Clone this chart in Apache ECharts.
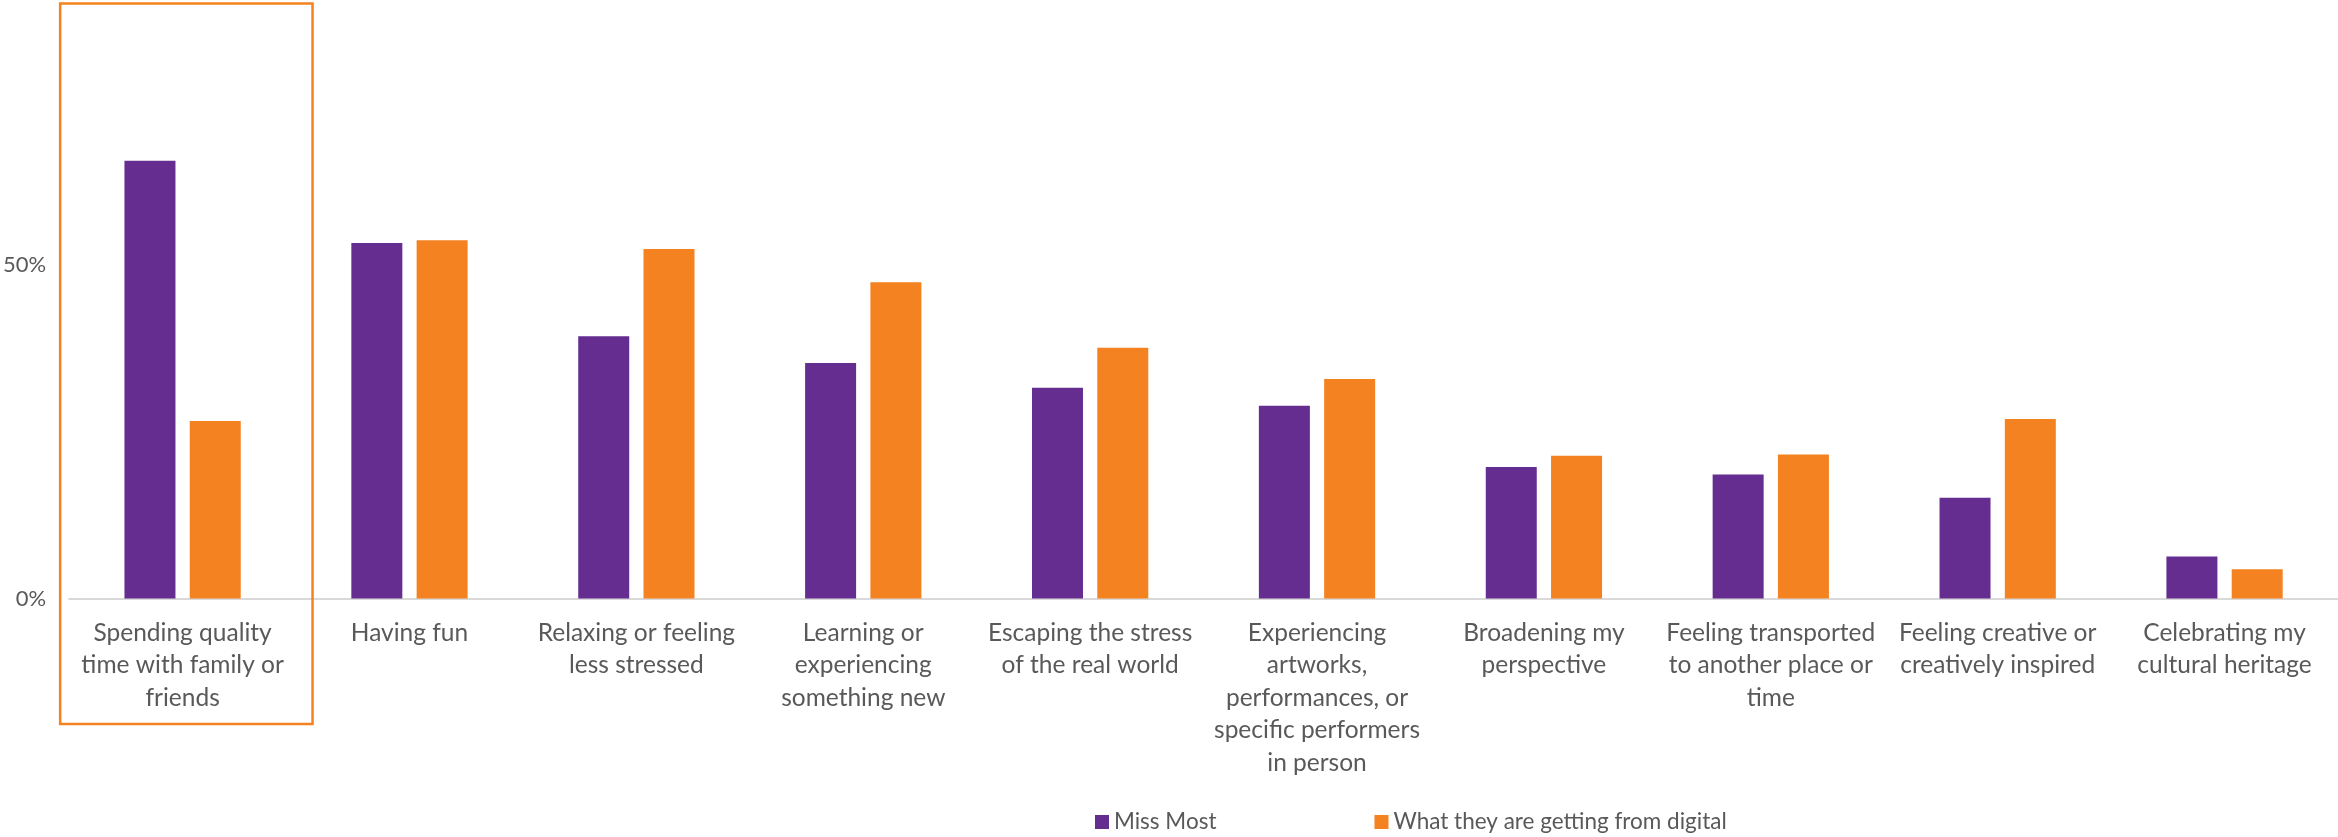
<!DOCTYPE html>
<html>
<head>
<meta charset="utf-8">
<script src="https://cdn.jsdelivr.net/npm/echarts@6/dist/echarts.min.js"></script>
<style>
  html, body { margin: 0; padding: 0; background: #ffffff; }
  #chart { width: 2338px; height: 837px; }
</style>
</head>
<body>
<div id="chart"></div>
<script>
const categories = [
  'Spending quality\ntime with family or\nfriends',
  'Having fun',
  'Relaxing or feeling\nless stressed',
  'Learning or\nexperiencing\nsomething new',
  'Escaping the stress\nof the real world',
  'Experiencing\nartworks,\nperformances, or\nspecific performers\nin person',
  'Broadening my\nperspective',
  'Feeling transported\nto another place or\ntime',
  'Feeling creative or\ncreatively inspired',
  'Celebrating my\ncultural heritage'
];
const seriesNames = ['Miss Most', 'What they are getting from digital'];
const missMost    = [65.6, 53.3, 39.3, 35.3, 31.6, 28.9, 19.7, 18.6, 15.1, 6.3];
const fromDigital = [26.6, 53.7, 52.4, 47.4, 37.6, 32.9, 21.4, 21.6, 26.9, 4.4];
const yMin = 0, yMax = 70, yInterval = 50;
const highlightIndex = 0;

const PURPLE = '#662D91';
const ORANGE = '#F58220';
const TEXT = '#595959';
const FONT = 'Lato, "Open Sans", sans-serif';

const chart = echarts.init(document.getElementById('chart'), null, { renderer: 'canvas' });

const option = {
  animation: false,
  backgroundColor: '#ffffff',
  grid: { left: 67, right: 0, top: 131.5, height: 467, containLabel: false },
  legend: {
    data: seriesNames,
    left: 1090,
    top: 805,
    icon: 'rect',
    itemWidth: 14,
    itemHeight: 14,
    itemGap: 158,
    textStyle: { color: TEXT, fontFamily: FONT, fontSize: 22.5, lineHeight: 24 }
  },
  xAxis: {
    type: 'category',
    data: categories,
    axisTick: { show: false },
    axisLine: { show: true, lineStyle: { color: '#D9D9D9', width: 2 } },
    axisLabel: {
      interval: 0,
      margin: 18,
      color: TEXT,
      fontFamily: FONT,
      fontSize: 24.5,
      lineHeight: 32.5,
      align: 'center'
    }
  },
  yAxis: {
    type: 'value',
    min: yMin,
    max: yMax,
    interval: yInterval,
    splitLine: { show: false },
    axisLine: { show: false },
    axisTick: { show: false },
    axisLabel: {
      showMaxLabel: false,
      margin: 23,
      color: TEXT,
      fontFamily: FONT,
      fontSize: 22,
      formatter: function (v) { return Math.round(v) + '%'; }
    }
  },
  series: [
    {
      name: seriesNames[0],
      type: 'bar',
      data: missMost,
      barWidth: 51,
      barGap: '28%',
      itemStyle: { color: PURPLE }
    },
    {
      name: seriesNames[1],
      type: 'bar',
      data: fromDigital,
      barWidth: 51,
      barGap: '28%',
      itemStyle: { color: ORANGE }
    }
  ]
};

chart.setOption(option);

// Highlight box around the first category, positioned from the axis scale
function drawHighlight() {
  const c0 = chart.convertToPixel({ xAxisIndex: 0 }, highlightIndex);
  const c1 = chart.convertToPixel({ xAxisIndex: 0 }, highlightIndex + 1);
  const band = c1 - c0;
  const yBase = chart.convertToPixel({ yAxisIndex: 0 }, 0);
  const left = c0 - band / 2 - 9;
  const right = c0 + band / 2 + 16.5;
  chart.setOption({
    graphic: [{
      type: 'rect',
      shape: { x: left, y: 3.5, width: right - left, height: (yBase + 125.5) - 3.5 },
      style: { fill: 'none', stroke: ORANGE, lineWidth: 2.5 },
      z: 100
    }]
  });
}
drawHighlight();
</script>
</body>
</html>
